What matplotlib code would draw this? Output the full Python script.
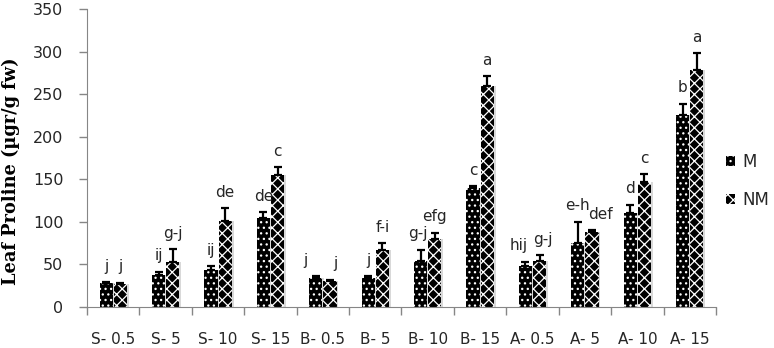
import numpy as np
import matplotlib
matplotlib.use('Agg')
from matplotlib import pyplot as plt
from matplotlib.patches import Patch
import matplotlib.ticker as plticker

categorias = ['S- 0.5', 'S- 5', 'S- 10', 'S- 15', 'B- 0.5', 'B- 5', 'B- 10', 'B- 15',
              'A- 0.5', 'A- 5', 'A- 10', 'A- 15']
m_vals = [28, 37, 44, 104, 34, 34, 54, 140, 48, 75, 110, 225]
m_err = [1, 4.5, 4, 7, 2, 2, 13, 2, 5, 25, 10, 14]
nm_vals = [27, 53, 101, 155, 30, 67, 80, 259, 54, 88, 147, 278]
nm_err = [1.5, 15, 15, 9, 2, 8, 7, 12, 7, 2, 9, 20]
m_letras = ['j', 'ij', 'ij', 'de', 'j', 'j', 'g-j', 'c', 'hij', 'e-h', 'd', 'b']
nm_letras = ['j', 'g-j', 'de', 'c', 'j', 'f-i', 'efg', 'a', 'g-j', 'def', 'c', 'a']

plt.rcParams['font.family'] = ['DejaVu Sans']
plt.rcParams['hatch.linewidth'] = 0.9

cinza = '#868686'
texto = '#262626'

fig = plt.figure(figsize=(7.74, 3.48), dpi=100)
ax = fig.add_axes([87/774, 1 - 307/348, 629/774, 298/348])

x = np.arange(len(categorias))
w = 0.25
gap = 0.02
xm = x - w/2 - gap/2
xn = x + w/2 + gap/2

# sombra leve atras das barras
ax.bar(xm + 0.025, m_vals, width=w + 0.02, color='#d9d9d9', linewidth=0, zorder=1)
ax.bar(xn + 0.025, nm_vals, width=w + 0.02, color='#d9d9d9', linewidth=0, zorder=1)

ax.bar(xm, m_vals, width=w, facecolor='black', edgecolor='white', hatch='...',
       linewidth=0, zorder=2)
ax.bar(xn, nm_vals, width=w, facecolor='black', edgecolor='white', hatch='xxx',
       linewidth=0, zorder=2)

ax.errorbar(xm, m_vals, yerr=[np.zeros(len(m_vals)), m_err], fmt='none',
            ecolor='black', elinewidth=1.6, capsize=3.2, capthick=1.6, zorder=3)
ax.errorbar(xn, nm_vals, yerr=[np.zeros(len(nm_vals)), nm_err], fmt='none',
            ecolor='black', elinewidth=1.6, capsize=3.2, capthick=1.6, zorder=3)

# ajustes manuais de alguns rotulos (px)
desloc = {(4, 0): -10, (4, 1): 5, (6, 0): -3, (8, 0): -7, (8, 1): 3, (9, 1): 8}
for i in range(len(categorias)):
    for s, (xs, v, e, l) in enumerate([(xm, m_vals, m_err, m_letras),
                                        (xn, nm_vals, nm_err, nm_letras)]):
        dx = desloc.get((i, s), 0) * 0.72
        ax.annotate(l[i], (xs[i], v[i] + e[i]), xytext=(dx, 11.5),
                    textcoords='offset points', ha='center', va='center',
                    fontsize=11, color=texto, zorder=4)

ax.set_xlim(-0.5, len(categorias) - 0.5)
ax.set_ylim(0, 350)
ax.yaxis.set_major_locator(plticker.MultipleLocator(50))

ax.set_xticks(x)
ax.set_xticklabels(categorias)
ax.set_xticks(np.arange(-0.5, len(categorias)), minor=True)
ax.tick_params(axis='x', which='major', length=0, pad=18, labelsize=11, labelcolor=texto)
ax.tick_params(axis='x', which='minor', length=6, color=cinza, width=1)
ax.tick_params(axis='y', length=6, color=cinza, width=1, pad=11, labelsize=11.5, labelcolor=texto)

ax.spines['right'].set_visible(False)
ax.spines['top'].set_visible(False)
ax.spines['left'].set_color(cinza)
ax.spines['bottom'].set_color(cinza)

ax.set_ylabel('Leaf Proline (µgr/g fw)', fontsize=12.8, fontweight='bold',
              family='DejaVu Serif', color='black')
ax.yaxis.set_label_coords(-0.107, 0.455)

handles = [Patch(facecolor='black', edgecolor='white', hatch='...', linewidth=0, label='M'),
           Patch(facecolor='black', edgecolor='white', hatch='xxx', linewidth=0, label='NM')]
fig.legend(handles=handles, loc='center left', bbox_to_anchor=(726/774, 1 - 181/348),
           frameon=False, fontsize=12, handlelength=0.55, handleheight=0.55,
           handletextpad=0.45, labelspacing=1.2, labelcolor=texto,
           borderaxespad=0, borderpad=0)

plt.savefig('out.png', dpi=100)
